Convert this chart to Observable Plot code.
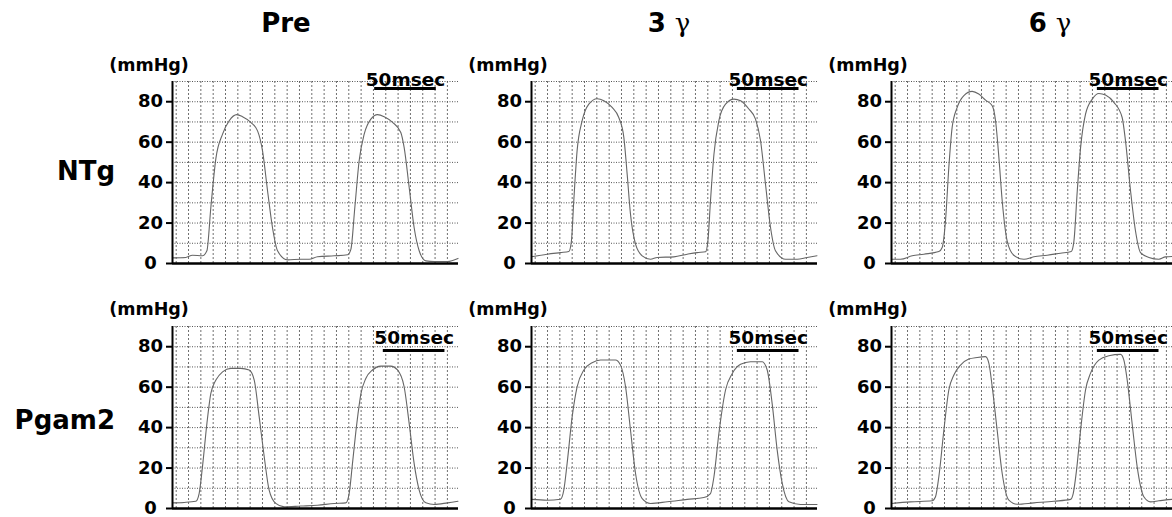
<!DOCTYPE html>
<html><head><meta charset="utf-8">
<script src="https://cdn.jsdelivr.net/npm/d3@7"></script>
<script src="https://cdn.jsdelivr.net/npm/@observablehq/plot@0.6"></script>
<style>
html,body{margin:0;padding:0;background:#fff;}
body{width:1172px;height:517px;overflow:hidden;position:relative;font-family:"DejaVu Sans",sans-serif;}
.abs{position:absolute;white-space:nowrap;font-weight:bold;color:#000;line-height:1;}
.g{font-family:"DejaVu Serif",serif;font-weight:normal;}
</style></head><body>
<script>
// ---------- data ----------
const conditions = ["Pre", "3 γ", "6 γ"];
const genotypes = ["NTg", "Pgam2"];
const yTicks = [0, 20, 40, 60, 80];
const yGridTicks = [10, 20, 30, 40, 50, 60, 70, 80, 90];
const xGridTicks = [0, 10, 20, 30, 40, 50, 60, 70, 80, 90, 100, 110, 120, 130, 140, 150, 160, 170, 180, 190, 200, 210, 220];
const xDomain = [-3, 229];   // msec
const yDomain = [0, 90];     // mmHg
const yUnit = "(mmHg)";
const scaleBarLabel = "50msec";
const scaleBarMs = 50;
const scaleBarStart = [[161, 164, 164], [168, 164, 164]];
const scaleBarLevel = [86.5, 78.1];

// pressure traces: [msec, mmHg]
const ntgPre = [[-3,2.8],[7.8,3],[13.2,4.1],[21.3,3.8],[24.9,6.3],[28.1,27.7],[32.2,52],[37.6,64],[43,70.6],[49.2,73.6],[53.8,72.6],[60.5,69.8],[66,65.6],[70,55.8],[74.1,36],[78.1,17.8],[82.2,6.3],[90.3,1.8],[101.1,2.1],[107.9,2.1],[114.6,3.3],[128.2,3.8],[139,4.3],[141.7,7],[144.9,27.7],[148.4,50.8],[152.5,64],[157.9,71.4],[163.3,73.6],[168.7,72.6],[175.5,69.8],[182.2,64.8],[184.9,57.4],[189,37.6],[193,17.8],[197.1,6.3],[202.5,1.3],[209.3,1],[220.1,1],[228.6,2.5]];
const ntg3 = [[-3,3.3],[9.7,4.6],[20.5,5.4],[27.3,5.9],[29.4,11.2],[31.3,31],[34,55.8],[38.1,70.6],[43.5,78.8],[50.3,81.5],[55.7,80.5],[62.4,77.2],[67.8,72.2],[71.9,62.4],[74.6,44.2],[77.3,24.4],[81.4,9.6],[86.8,3.8],[93.5,2.1],[99,3],[112.5,3.3],[123.3,4.6],[131.4,5.4],[138.2,5.8],[140.1,11.2],[142.2,31],[145,54],[149,70.6],[154.4,78.8],[161.2,81.3],[166.6,80.5],[173.3,76.4],[178.7,71.4],[182.8,60.7],[186.8,39.3],[190.9,17.8],[194.9,6.3],[203.1,2.1],[212.5,2.1],[220.6,3],[228.6,3.8]];
const ntg6 = [[-3,2.1],[4.3,2.1],[13.8,3.8],[23.2,4.6],[35.4,5.9],[38.1,7.9],[40.8,21.1],[43.5,47.5],[46.2,67.3],[50.3,77.2],[55.7,83],[62.4,85.1],[67.8,83.8],[73.3,80.8],[78.7,78],[81.4,70.6],[84.1,52.5],[86.8,31],[90.8,11.2],[96.2,4.1],[104.4,2.1],[112.5,3.3],[123.3,4.1],[134.1,5.1],[142.8,5.9],[145,11.2],[147.7,36],[150.4,57.4],[154.4,73.9],[159.9,81.3],[165.2,84.1],[170.6,83.3],[177.4,79.7],[184.1,72.2],[186.8,60.7],[190.9,36],[194.9,16.2],[199,5.4],[205.8,3],[213.9,2.1],[219.3,3.3],[228.6,3.5]];
const pgamPre = [[-3,2.8],[6.5,3],[15.9,3.6],[18.6,7.4],[21.3,20.6],[24.9,42],[28.1,56.9],[32.2,63.5],[37.6,67.6],[44.3,69.3],[52.4,69.3],[59.2,68.5],[63.3,63.5],[67.3,45.4],[71.4,25.6],[75.4,9.1],[80.8,2.5],[87.6,0.8],[101.1,1.2],[114.6,1.6],[128.2,2.5],[137.6,2.8],[140.3,7.4],[143,22.3],[146.5,42],[149.9,56.9],[153.8,64.3],[159.2,68.5],[166,70.4],[174.1,70.4],[179.5,68.5],[184.9,60.2],[189,42],[193,22.3],[197.1,9.1],[202.5,2.8],[209.3,2],[220.1,2.8],[228.6,3.6]];
const pgam3 = [[-3,4.5],[9.7,4.1],[20.5,4.6],[23.2,9.1],[25.9,22.3],[30,45.4],[34,60.2],[39.5,68.5],[46.2,72.1],[53,73.4],[65.1,73.4],[69.2,70.9],[73.3,60.2],[77.3,38.8],[81.4,17.3],[86.8,4.9],[93.5,2.5],[107.1,3.3],[123.3,4.5],[136.8,5.4],[142.2,7.4],[145,15.7],[149,37.1],[154.4,58.6],[159.9,66.8],[166.6,71.3],[174.7,72.6],[184.1,72.6],[188.2,68.5],[192.2,52],[196.3,28.9],[200.4,12.4],[205.8,3.3],[215.2,2],[228.6,2]];
const pgam6 = [[-3,2.5],[12.4,3.3],[30,3.8],[32.7,5.8],[35.4,15.7],[39.5,38.8],[43.5,58.6],[47.6,66],[53,70.9],[59.7,73.9],[66.5,74.7],[73.3,75.1],[76,71.8],[78.7,60.2],[82.7,38.8],[86.8,17.3],[92.2,4.1],[98.9,2.1],[112.5,2.8],[128.7,3.6],[142.2,4.5],[144.4,7.4],[147.1,19],[150.4,38.8],[154.4,58.6],[158.4,66.8],[165.2,73.4],[173.3,75.5],[182.8,76.2],[185.5,73.4],[188.2,63.5],[192.2,42],[196.3,20.6],[201.7,5.8],[207.1,3.3],[213.9,3.8],[224.4,4.5],[228.6,4.6]];
const traces = [[ntgPre, ntg3, ntg6], [pgamPre, pgam3, pgam6]];

// ---------- layout ----------
const panelW = 286, panelH = 182;
const panelLeft = [172, 531, 891];
const panelTop = [81, 326];
const ML = 70, MR = 8, MT = 30, MB = 8;
const textDy = [-3, -7];
const FONT = "DejaVu Sans";

function addDiv(html, left, top, style) {
  const d = document.createElement("div");
  d.className = "abs";
  d.innerHTML = html;
  d.style.left = left + "px";
  d.style.top = top + "px";
  Object.assign(d.style, style || {});
  document.body.appendChild(d);
  return d;
}

function panel(data, r, c) {
  const bar = [{x1: scaleBarStart[r][c], x2: scaleBarStart[r][c] + scaleBarMs, y: scaleBarLevel[r], label: scaleBarLabel}];
  return Plot.plot({
    width: panelW + ML + MR,
    height: panelH + MT + MB,
    marginLeft: ML, marginRight: MR, marginTop: MT, marginBottom: MB,
    x: {domain: xDomain, axis: null},
    y: {domain: yDomain, axis: null},
    style: {fontFamily: FONT, background: "transparent", overflow: "visible"},
    marks: [
      Plot.ruleX(xGridTicks, {stroke: "#6f6f6f", strokeDasharray: "2,2", strokeWidth: 1}),
      Plot.ruleY(yGridTicks, {stroke: "#555", strokeDasharray: "1,1.5", strokeWidth: 1}),
      Plot.line(data, {x: d => d[0], y: d => d[1], stroke: "#666", strokeWidth: 1.1, curve: "monotone-x"}),
      Plot.ruleX([xDomain[0]], {stroke: "#000", strokeWidth: 2}),
      Plot.ruleY([yDomain[0]], {stroke: "#000", strokeWidth: 2.5}),
      Plot.axisY(yTicks, {anchor: "left", label: null, tickSize: 6, tickPadding: 16, textAnchor: "middle",
        fontSize: 18, fontWeight: "bold", stroke: "#000", strokeWidth: 2, fill: "#000"}),
      Plot.ruleY(bar, {x1: "x1", x2: "x2", y: "y", stroke: "#000", strokeWidth: 3}),
      Plot.text(bar, {x: d => (d.x1 + d.x2) / 2, y: "y", text: "label", dy: textDy[r], lineAnchor: "bottom",
        fontSize: 18.5, fontWeight: "bold", fill: "#000"})
    ]
  });
}

genotypes.forEach((g, r) => {
  conditions.forEach((cond, c) => {
    const svg = panel(traces[r][c], r, c);
    svg.style.position = "absolute";
    svg.style.left = (panelLeft[c] - ML) + "px";
    svg.style.top = (panelTop[r] - MT) + "px";
    document.body.appendChild(svg);
    addDiv(yUnit, panelLeft[c] - 23, panelTop[r] - 15 - r, {fontSize: "17.5px", transform: "translate(-50%,-50%)"});
  });
});

// column titles
const titleX = [286, 669, 1050];
conditions.forEach((cond, c) => {
  const parts = cond.split(" ");
  const html = parts.length > 1 ? parts[0] + ' <span class="g">' + parts[1] + '</span>' : cond;
  addDiv(html, titleX[c], 23, {fontSize: "26px", transform: "translate(-50%,-50%)"});
});

// row labels
const rowY = [171, 420];
genotypes.forEach((g, r) => {
  addDiv(g, 115, rowY[r], {fontSize: "26px", transform: "translate(-100%,-50%)"});
});
</script>
</body></html>
